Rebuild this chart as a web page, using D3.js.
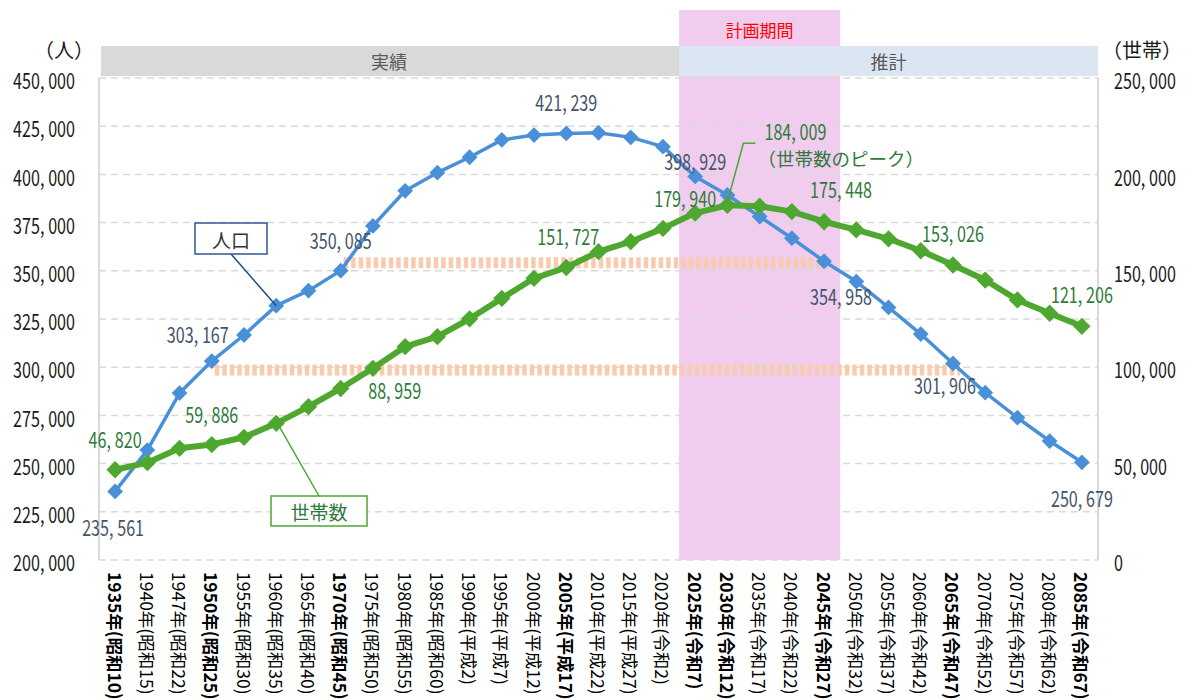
<!DOCTYPE html>
<html><head><meta charset="utf-8">
<script src="https://cdn.jsdelivr.net/npm/d3@7"></script>
<style>
html,body{margin:0;padding:0;background:#fff;}
svg{display:block;}
.num{font-family:"Noto Sans CJK JP","Noto Sans",sans-serif;}
.jp{font-family:"Noto Sans CJK JP","Noto Sans",sans-serif;}
</style></head>
<body>
<svg id="c" width="1186" height="699"></svg>
<script>
// ---- data ----
const categories = ["1935年(昭和10)","1940年(昭和15)","1947年(昭和22)","1950年(昭和25)","1955年(昭和30)","1960年(昭和35)","1965年(昭和40)","1970年(昭和45)","1975年(昭和50)","1980年(昭和55)","1985年(昭和60)","1990年(平成2)","1995年(平成7)","2000年(平成12)","2005年(平成17)","2010年(平成22)","2015年(平成27)","2020年(令和2)","2025年(令和7)","2030年(令和12)","2035年(令和17)","2040年(令和22)","2045年(令和27)","2050年(令和32)","2055年(令和37)","2060年(令和42)","2065年(令和47)","2070年(令和52)","2075年(令和57)","2080年(令和62)","2085年(令和67)"];
const boldCategories = ["1935年(昭和10)","1950年(昭和25)","1970年(昭和45)","2005年(平成17)","2025年(令和7)","2030年(令和12)","2045年(令和27)","2065年(令和47)","2085年(令和67)"];
const population = [235561,257000,286600,303167,316700,331900,339700,350085,373300,391500,400900,408900,417900,420400,421239,421600,419200,414400,398929,389300,378100,366900,354958,344400,331000,317200,301906,286800,273800,261700,250679];
const households = [46820,50470,57940,59886,63640,70900,79520,88959,99430,110640,115830,125100,135700,146100,151727,159900,165100,172000,179940,184009,183500,180700,175448,171200,166600,160400,153026,145200,134900,128000,121206];
const leftTicks = [200000,225000,250000,275000,300000,325000,350000,375000,400000,425000,450000];
const rightTicks = [0,50000,100000,150000,200000,250000];
const periodStart = "2025年(令和7)", periodEnd = "2045年(令和27)";
const headerActual = "実績", headerForecast = "推計", periodTitle = "計画期間";
const popLabelIdx = [0,3,7,14,18,22,26,30];
const hhLabelIdx = [0,3,7,14,18,22,26,30];
const peakIdx = 19;
const peakNote = "（世帯数のピーク）";
// matching-level bands (left axis value, from category, to category)
const bands = [[354200,"1970年(昭和45)","2045年(令和27)"],[298500,"1950年(昭和25)","2065年(令和47)"]];

// ---- layout / style ----
const popLabelOff = {0:[-2,34],3:[-14,-28],7:[0,-32],14:[0,-33],18:[0,-17],22:[17,34],26:[-8,20],30:[0,35]};
const hhLabelOff = {0:[0,-32],3:[0,-32],7:[54,0],14:[2,-33],18:[-10,-16],22:[17,-34],26:[0,-33],30:[0,-33]};
const blue="#4a90d9", green="#4ea72e", popText="#44546a", hhText="#2e7a3b";
const NX = 0.75; // horizontal condensing of numeric text
const NS = 21.5; // numeric font size

const svg = d3.select("#c");
const L=99, R=1098, T=78, B=560;
const x = d3.scaleBand().domain(categories).range([L,R]).padding(0);
const cx = c => x(c)+x.bandwidth()/2;
const yL = d3.scaleLinear().domain([200000,450000]).range([B,T]);
const yR = d3.scaleLinear().domain([0,250000]).range([B,T]);

function numText(parent, v, px, py, anchor, color, size){
  const t = parent.append("text").attr("class","num")
    .attr("transform",`translate(${px},${py}) scale(${NX},1)`)
    .attr("text-anchor",anchor).attr("dominant-baseline","central")
    .attr("font-size",size).attr("fill",color);
  const s = d3.format(",")(v).split(",");
  s.forEach((p,i)=>{
    if(i>0){ t.append("tspan").text(","); t.append("tspan").attr("dx",5).text(p); }
    else t.append("tspan").text(p);
  });
  return t;
}

// planning period
const px0 = x(periodStart), px1 = x(periodEnd)+x.bandwidth();
svg.append("rect").attr("x",px0).attr("y",10).attr("width",px1-px0).attr("height",B-10).attr("fill","#f0cdee");
svg.append("text").attr("class","jp").attr("x",(px0+px1)/2).attr("y",29).attr("text-anchor","middle").attr("dominant-baseline","central")
  .attr("font-size",17).attr("fill","#ff0000").text(periodTitle);

// header bars
svg.append("rect").attr("x",L+2).attr("y",46).attr("width",px0-L-2).attr("height",30).attr("fill","#d9d9d9");
svg.append("rect").attr("x",px0).attr("y",46).attr("width",R-px0).attr("height",30).attr("fill","#dce6f2");
svg.append("text").attr("class","jp").attr("x",(L+px0)/2).attr("y",61).attr("text-anchor","middle").attr("dominant-baseline","central")
  .attr("font-size",18).attr("fill","#595959").text(headerActual);
svg.append("text").attr("class","jp").attr("x",(px0+R)/2).attr("y",61).attr("text-anchor","middle").attr("dominant-baseline","central")
  .attr("font-size",18).attr("fill","#595959").text(headerForecast);

// gridlines
svg.append("g").selectAll("line").data(leftTicks).join("line")
  .attr("x1",L).attr("x2",R).attr("y1",d=>yL(d)).attr("y2",d=>yL(d))
  .attr("stroke","#d9d9d9").attr("stroke-width",1.5).attr("stroke-dasharray","7,5");
svg.append("line").attr("x1",L).attr("x2",L).attr("y1",T).attr("y2",B).attr("stroke","#d9d9d9").attr("stroke-width",2);
svg.append("line").attr("x1",R).attr("x2",R).attr("y1",T).attr("y2",B).attr("stroke","#d9d9d9").attr("stroke-width",2);

// tick labels
const gl = svg.append("g");
leftTicks.forEach(d=>numText(gl,d,75,yL(d)+1,"end","#1a1a1a",NS));
const gr = svg.append("g");
rightTicks.forEach(d=>numText(gr,d,1114,yR(d)+1,"start","#1a1a1a",NS));
svg.append("text").attr("class","jp").attr("x",64).attr("y",49).attr("text-anchor","middle").attr("dominant-baseline","central").attr("font-size",20).attr("fill","#1a1a1a").text("（人）");
svg.append("text").attr("class","jp").attr("x",1142).attr("y",49).attr("text-anchor","middle").attr("dominant-baseline","central").attr("font-size",20).attr("fill","#1a1a1a").text("（世帯）");

// x labels
svg.append("g").selectAll("text").data(categories).join("text").attr("class","jp")
  .attr("transform",d=>`translate(${cx(d)},572) rotate(90)`)
  .attr("dominant-baseline","central").attr("font-size",17.5)
  .attr("font-weight",d=>boldCategories.includes(d)?"bold":"normal")
  .attr("fill","#000").text(d=>d);

// level bands
svg.append("g").selectAll("line").data(bands).join("line")
  .attr("x1",d=>cx(d[1])+3).attr("x2",d=>cx(d[2])+7).attr("y1",d=>yL(d[0])).attr("y2",d=>yL(d[0]))
  .attr("stroke","#f8cbad").attr("stroke-width",11).attr("stroke-dasharray","4.5,3");

// series
const diamond = s => d3.symbol().type(d3.symbolSquare).size(s)();
function series(vals, scale, color, lw, ms){
  const g = svg.append("g");
  g.append("path").datum(vals).attr("fill","none").attr("stroke",color).attr("stroke-width",lw).attr("stroke-linejoin","round")
    .attr("d",d3.line().x((d,i)=>cx(categories[i])).y(d=>scale(d)));
  g.selectAll("path.m").data(vals).join("path").attr("class","m")
    .attr("transform",(d,i)=>`translate(${cx(categories[i])},${scale(d)}) rotate(45)`)
    .attr("d",diamond(ms)).attr("fill",color);
}
series(population, yL, blue, 3.5, 125);
series(households, yR, green, 6, 150);

// data labels
const gd = svg.append("g");
popLabelIdx.forEach(i=>{
  const o = popLabelOff[i];
  numText(gd, population[i], cx(categories[i])+o[0], yL(population[i])+o[1], "middle", popText, NS);
});
hhLabelIdx.forEach(i=>{
  const o = hhLabelOff[i];
  numText(gd, households[i], cx(categories[i])+o[0], yR(households[i])+o[1], "middle", hhText, NS);
});
// peak callout
{
  const px = cx(categories[peakIdx]), py = yR(households[peakIdx]);
  svg.append("path").attr("d",`M${px+1},${py-7}L${px+16},${py-62}L${px+28},${py-62}`).attr("fill","none").attr("stroke",green).attr("stroke-width",1.5);
  numText(svg, households[peakIdx], px+68, py-75, "middle", hhText, NS);
  svg.append("text").attr("class","jp").attr("x",px+30).attr("y",py-47).attr("dominant-baseline","central")
    .attr("font-size",18.5).attr("fill",hhText).text(peakNote);
}
// series callouts
{
  const mx = cx(categories[5]), my = yL(population[5]);
  svg.append("line").attr("x1",231).attr("y1",254).attr("x2",mx).attr("y2",my).attr("stroke","#1f4e79").attr("stroke-width",1.5);
  svg.append("rect").attr("x",195).attr("y",223).attr("width",72).attr("height",31).attr("fill","#fff").attr("stroke","#2f5597").attr("stroke-width",1.5);
  svg.append("text").attr("class","jp").attr("x",231).attr("y",239).attr("text-anchor","middle").attr("dominant-baseline","central").attr("font-size",19).attr("fill","#333").text("人口");
  const hx = cx(categories[5]), hy = yR(households[5]);
  svg.append("line").attr("x1",319).attr("y1",496).attr("x2",hx+3).attr("y2",hy+3).attr("stroke",green).attr("stroke-width",1.5);
  svg.append("rect").attr("x",271).attr("y",496).attr("width",96).attr("height",30).attr("fill","#fff").attr("stroke",green).attr("stroke-width",1.5);
  svg.append("text").attr("class","jp").attr("x",319).attr("y",511).attr("text-anchor","middle").attr("dominant-baseline","central").attr("font-size",19).attr("fill",hhText).text("世帯数");
}
</script>
</body></html>
